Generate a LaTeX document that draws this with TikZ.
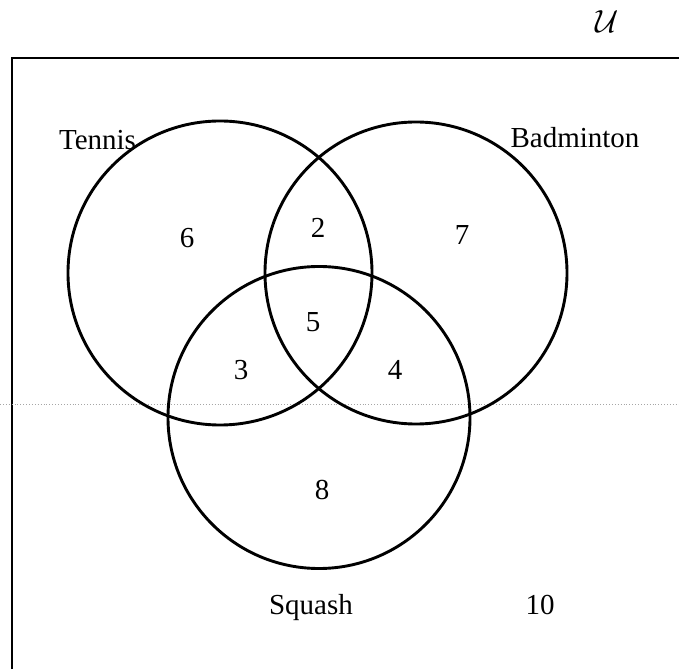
\documentclass[tikz,border=0pt]{standalone}
\usepackage{fontspec}
\setmainfont{Liberation Serif}
\begin{document}
\begin{tikzpicture}[x=1pt,y=1pt,
  setcirc/.style={circle,draw,line width=2.9pt,inner sep=0pt},
  lbl/.style={font=\fontsize{29}{34}\selectfont,inner sep=0pt},
  frame/.style={line width=2.9pt},
  scanline/.style={gray!70,dotted,line width=0.9pt}]
\useasboundingbox (0,0) rectangle (679,669);
% universal set frame
\coordinate (bl) at (12,0);
\coordinate (tl) at (12,611);
\coordinate (tr) at (679,611);
\draw[frame] (bl) -- (tl) -- (tr);
% faint scan line
\coordinate (dl) at (0,265);
\coordinate (dr) at (679,265);
\draw[scanline] (dl) -- (dr);
% circles
\node[setcirc,minimum size=304pt] (T) at (220,396) {};
\node[setcirc,minimum size=302pt] (B) at (416,396) {};
\node[setcirc,minimum size=302pt] (S) at (319,251.5) {};
% set labels
\node[lbl,anchor=base] (tn) at (97.5,519) {Tennis};
\node[lbl,anchor=base] (bd) at (575,521) {Badminton};
\node[lbl,anchor=base] (sq) at (311,55) {Squash};
\node[lbl,anchor=base] (ten) at (540,55) {10};
% region counts
\node[lbl] (n6) at (187,431) {6};
\node[lbl] (n2) at (318,441) {2};
\node[lbl] (n7) at (462,434) {7};
\node[lbl] (n5) at (313,347) {5};
\node[lbl] (n3) at (241,299) {3};
\node[lbl] (n4) at (395,299) {4};
\node[lbl] (n8) at (322,179) {8};
% universal set symbol
\node[inner sep=0pt,scale=3.2] (U) at (607,647) {$\mathcal{U}$};
\end{tikzpicture}
\end{document}
